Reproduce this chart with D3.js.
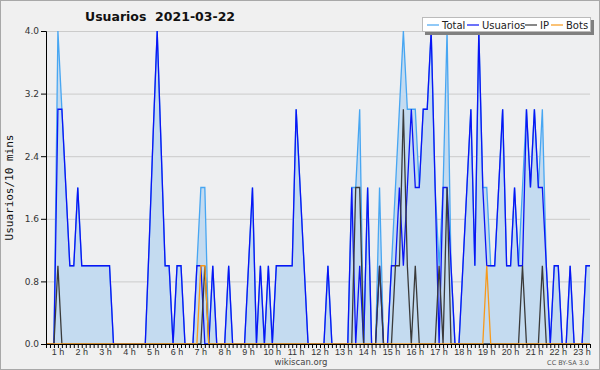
<!DOCTYPE html>
<html>
  <head>
    <title>Usuarios 2021-03-22</title>
    <meta charset="UTF-8" />
    <script src="https://cdn.jsdelivr.net/npm/d3@7"></script>
    <style>
      body { margin: 0; background: #f0f0f0; }
      svg { display: block; font-family: 'DejaVu Sans', sans-serif; }
    </style>
  </head>
  <body>
    <svg></svg>
    <script>
      // 1. data: one value every 10 minutes, first point at 00:30
      const startMin = 30
      const stepMin = 10

      const total = [
        0, 0, 0, 4, 3, 2, 1, 1, 2, 1, 1, 1,
        1, 1, 1, 1, 1, 0, 0, 0, 0, 0, 0, 0,
        0, 0, 1.3, 2.7, 4, 2.5, 1, 1, 0, 1, 1, 0,
        0, 0, 1, 2, 2, 0, 1, 0, 0, 0, 1, 0,
        0, 0, 0, 1, 2, 0, 1, 0, 1, 0, 1, 1,
        1, 1, 1, 3, 2, 1, 0, 0, 0, 0, 0, 1,
        0, 0, 0, 0, 0, 2, 2, 3, 0, 2, 0, 0,
        2, 0, 0, 1, 2, 3, 4, 3, 3, 3, 2, 3,
        3, 4, 2, 1, 2, 4, 1, 0, 0, 1, 2, 3,
        1, 4, 2, 2, 1, 1, 2, 3, 1, 1, 2, 1,
        2, 3, 2, 3, 2, 3, 1, 0, 1, 1, 0, 0,
        1, 0, 0, 0, 1, 1,
      ]
      const usuarios = [
        0, 0, 0, 3, 3, 2, 1, 1, 2, 1, 1, 1,
        1, 1, 1, 1, 1, 0, 0, 0, 0, 0, 0, 0,
        0, 0, 1.3, 2.7, 4, 2.5, 1, 1, 0, 1, 1, 0,
        0, 0, 1, 1, 0, 0, 1, 0, 0, 0, 1, 0,
        0, 0, 0, 1, 2, 0, 1, 0, 1, 0, 1, 1,
        1, 1, 1, 3, 2, 1, 0, 0, 0, 0, 0, 1,
        0, 0, 0, 0, 0, 2, 0, 1, 0, 2, 0, 0,
        1, 0, 0, 1, 1, 2, 1, 2, 3, 2, 2, 3,
        3, 4, 2, 0, 2, 2, 1, 0, 0, 1, 2, 3,
        1, 4, 2, 1, 1, 1, 2, 3, 1, 1, 2, 1,
        1, 3, 2, 3, 2, 2, 1, 0, 1, 1, 0, 0,
        1, 0, 0, 0, 1, 1,
      ]
      const ip = [
        0, 0, 0, 1, 0, 0, 0, 0, 0, 0, 0, 0,
        0, 0, 0, 0, 0, 0, 0, 0, 0, 0, 0, 0,
        0, 0, 0, 0, 0, 0, 0, 0, 0, 0, 0, 0,
        0, 0, 0, 0, 1, 0, 0, 0, 0, 0, 0, 0,
        0, 0, 0, 0, 0, 0, 0, 0, 0, 0, 0, 0,
        0, 0, 0, 0, 0, 0, 0, 0, 0, 0, 0, 0,
        0, 0, 0, 0, 0, 0, 2, 2, 0, 0, 0, 0,
        1, 0, 0, 0, 1, 1, 3, 1, 0, 1, 0, 0,
        0, 0, 0, 1, 0, 2, 0, 0, 0, 0, 0, 0,
        0, 0, 0, 0, 0, 0, 0, 0, 0, 0, 0, 0,
        1, 0, 0, 0, 0, 1, 0, 0, 0, 0, 0, 0,
        0, 0, 0, 0, 0, 0,
      ]
      const bots = [
        0, 0, 0, 0, 0, 0, 0, 0, 0, 0, 0, 0,
        0, 0, 0, 0, 0, 0, 0, 0, 0, 0, 0, 0,
        0, 0, 0, 0, 0, 0, 0, 0, 0, 0, 0, 0,
        0, 0, 0, 1, 1, 0, 0, 0, 0, 0, 0, 0,
        0, 0, 0, 0, 0, 0, 0, 0, 0, 0, 0, 0,
        0, 0, 0, 0, 0, 0, 0, 0, 0, 0, 0, 0,
        0, 0, 0, 0, 0, 0, 0, 0, 0, 0, 0, 0,
        0, 0, 0, 0, 0, 0, 0, 0, 0, 0, 0, 0,
        0, 0, 0, 0, 0, 0, 0, 0, 0, 0, 0, 0,
        0, 0, 0, 1, 0, 0, 0, 0, 0, 0, 0, 0,
        0, 0, 0, 0, 0, 0, 0, 0, 0, 0, 0, 0,
        0, 0, 0, 0, 0, 0,
      ]

      const seriesNames = ['Total', 'Usuarios', 'IP', 'Bots']
      const seriesValues = [total, usuarios, ip, bots]
      const seriesColors = ['#47a6f2', '#0a14f5', '#3a3a3a', '#f79a1c']
      const hourTicks = d3.range(1, 24)
      const yTicks = [0, 0.8, 1.6, 2.4, 3.2, 4.0]
      const yMinorTicks = d3.range(0, 4.01, 0.2)

      // 2. scales
      const width = 600
      const height = 370
      const margin = { top: 31, right: 10, bottom: 26, left: 46 }
      const t = (i) => startMin + i * stepMin
      const endMin = t(total.length - 1)

      const x = d3.scaleLinear([startMin, endMin], [margin.left, width - margin.right])
      const y = d3.scaleLinear([0, 4], [height - margin.bottom, margin.top])

      const svg = d3
        .select('svg')
        .attr('width', width)
        .attr('height', height)
        .attr('viewBox', [0, 0, width, height])

      // frame
      svg.append('rect')
        .attr('x', 0.5).attr('y', 0.5)
        .attr('width', width - 1).attr('height', height - 1)
        .attr('fill', '#f0f0f0')
        .attr('stroke', '#a8a8a8')

      svg.append('rect')
        .attr('x', margin.left).attr('y', margin.top)
        .attr('width', width - margin.left - margin.right)
        .attr('height', height - margin.top - margin.bottom)
        .attr('fill', '#eeeff1')

      // grid
      svg.append('g')
        .selectAll('line')
        .data(yTicks.slice(1))
        .join('line')
        .attr('x1', margin.left).attr('x2', width - margin.right)
        .attr('y1', (d) => y(d) + 0.5).attr('y2', (d) => y(d) + 0.5)
        .attr('stroke', '#cbcbcb')

      // 3. area + lines
      svg.append('path')
        .datum(total)
        .attr('fill', '#c4dbf0')
        .attr('d', d3.area().x((d, i) => x(t(i))).y0(y(0)).y1((d) => y(d)))

      const line = d3.line().x((d, i) => x(t(i))).y((d) => y(d))

      svg.append('g')
        .attr('fill', 'none')
        .attr('stroke-width', 1.3)
        .selectAll('path')
        .data(seriesValues)
        .join('path')
        .attr('stroke', (d, i) => seriesColors[i])
        .attr('d', line)

      // 4. axes
      const yAxis = svg.append('g')
        .attr('transform', `translate(${margin.left},0)`)
      yAxis.call(d3.axisLeft(y).tickValues(yMinorTicks).tickSize(3).tickFormat(''))
      yAxis.call(d3.axisLeft(y).tickValues(yTicks).tickSize(5).tickPadding(2).tickFormat(d3.format('.1f')))
      yAxis.selectAll('.domain').attr('stroke', '#000')

      const xAxis = svg.append('g')
        .attr('transform', `translate(0,${height - margin.bottom})`)
      xAxis.call(
        d3.axisBottom(x)
          .tickValues(d3.range(0, total.length).map(t))
          .tickSize(4)
          .tickSizeOuter(0)
          .tickFormat('')
      )
      xAxis.append('g')
        .selectAll('text')
        .data(hourTicks)
        .join('text')
        .attr('x', (d) => x(d * 60))
        .attr('y', 10.5)
        .attr('text-anchor', 'middle')
        .attr('fill', '#333')
        .attr('font-size', 9)
        .text((d) => d + ' h')

      svg.selectAll('.tick text').attr('font-size', 9).attr('fill', '#333')
        .attr('font-family', 'DejaVu Sans, sans-serif')
      svg.selectAll('.tick line').attr('stroke', '#000')

      // 5. texts
      svg.append('text')
        .attr('x', 85).attr('y', 21)
        .attr('font-size', 12.5).attr('font-weight', 'bold')
        .style('white-space', 'pre')
        .attr('fill', '#111')
        .text('Usuarios  2021-03-22')

      svg.append('text')
        .attr('transform', `translate(13,${(margin.top + height - margin.bottom) / 2}) rotate(-90)`)
        .attr('text-anchor', 'middle')
        .attr('font-family', 'DejaVu Sans Mono, monospace')
        .attr('font-size', 11)
        .attr('fill', '#111')
        .text('Usuarios/10 mins')

      svg.append('text')
        .attr('x', 301).attr('y', 365)
        .attr('text-anchor', 'middle')
        .attr('font-size', 8.5)
        .attr('fill', '#444')
        .text('wikiscan.org')

      svg.append('text')
        .attr('x', 589).attr('y', 365)
        .attr('text-anchor', 'end')
        .attr('font-size', 6.5)
        .attr('fill', '#555')
        .text('CC BY-SA 3.0')

      // 6. legend
      const legend = svg.append('g')
      legend.append('rect')
        .attr('x', 425).attr('y', 20).attr('width', 169).attr('height', 15)
        .attr('fill', '#808080')
      legend.append('rect')
        .attr('x', 422.5).attr('y', 17.5).attr('width', 168).attr('height', 14)
        .attr('fill', '#fff').attr('stroke', '#bbb')

      const legendX = [427, 467, 525, 551]
      const item = legend.selectAll('g.item')
        .data(seriesNames)
        .join('g')
        .attr('class', 'item')
        .attr('transform', (d, i) => `translate(${legendX[i]},25)`)
      item.append('line')
        .attr('x1', 0).attr('x2', 12)
        .attr('stroke', (d, i) => seriesColors[i])
        .attr('stroke-width', 1.2)
      item.append('text')
        .attr('x', 15).attr('y', 3.5)
        .attr('font-size', 10)
        .attr('fill', '#222')
        .text((d) => d)
    </script>
  </body>
</html>
